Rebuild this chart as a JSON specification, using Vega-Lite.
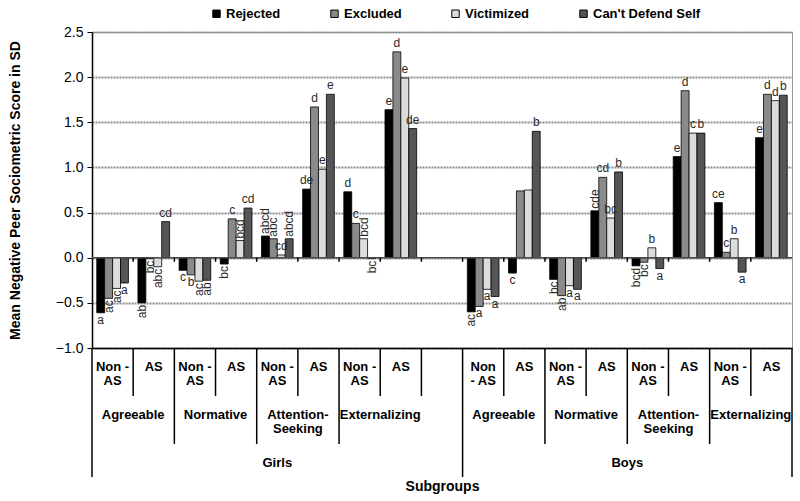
{
  "$schema": "https://vega.github.io/schema/vega-lite/v6.json",
  "width": 700,
  "height": 316,
  "autosize": {"type": "none"},
  "padding": {"left": 92, "top": 32, "right": 8, "bottom": 153},
  "background": "white",
  "config": {
    "font": "Liberation Sans",
    "view": {"stroke": "#9a9a9a", "strokeWidth": 1},
    "axisX": {
      "labelAngle": 0, "labelFontSize": 13, "labelFontWeight": "bold", "labelColor": "black",
      "labelPadding": 12, "labelLineHeight": 14, "labelOverlap": false, "labelLimit": 0,
      "ticks": false, "domainColor": "black", "domainWidth": 1.5, "grid": false,
      "titleFontSize": 14, "titleFontWeight": "bold", "titleColor": "black",
      "titleX": 350, "titleY": 138, "titleBaseline": "middle"
    },
    "axisY": {
      "titleFontSize": 14, "titleFontWeight": "bold", "titleColor": "black",
      "titleX": -77, "titleY": 158, "titleAngle": 270, "titleAlign": "center", "titleBaseline": "middle",
      "labelFontSize": 14, "labelColor": "black", "labelPadding": 4,
      "tickSize": 5, "tickColor": "black", "domainColor": "black", "domainWidth": 1.5,
      "grid": true, "gridColor": "#8c8c8c", "gridWidth": 2, "gridDash": [2, 1]
    }
  },
  "datasets": {
    "bars": [
      {"slot": "Girls|Agreeable|Non-AS", "series": "Rejected", "value": -0.61, "letter": "a"},
      {"slot": "Girls|Agreeable|Non-AS", "series": "Excluded", "value": -0.45, "letter": "ac"},
      {"slot": "Girls|Agreeable|Non-AS", "series": "Victimized", "value": -0.34, "letter": "ac"},
      {"slot": "Girls|Agreeable|Non-AS", "series": "Can't Defend Self", "value": -0.28, "letter": "a"},
      {"slot": "Girls|Agreeable|AS", "series": "Rejected", "value": -0.5, "letter": "ab"},
      {"slot": "Girls|Agreeable|AS", "series": "Excluded", "value": -0.01, "letter": "bc"},
      {"slot": "Girls|Agreeable|AS", "series": "Victimized", "value": -0.1, "letter": "abc"},
      {"slot": "Girls|Agreeable|AS", "series": "Can't Defend Self", "value": 0.4, "letter": "cd"},
      {"slot": "Girls|Normative|Non-AS", "series": "Rejected", "value": -0.14, "letter": "c"},
      {"slot": "Girls|Normative|Non-AS", "series": "Excluded", "value": -0.19, "letter": "b"},
      {"slot": "Girls|Normative|Non-AS", "series": "Victimized", "value": -0.26, "letter": "ac"},
      {"slot": "Girls|Normative|Non-AS", "series": "Can't Defend Self", "value": -0.25, "letter": "ab"},
      {"slot": "Girls|Normative|AS", "series": "Rejected", "value": -0.07, "letter": "bc"},
      {"slot": "Girls|Normative|AS", "series": "Excluded", "value": 0.43, "letter": "c"},
      {"slot": "Girls|Normative|AS", "series": "Victimized", "value": 0.19, "letter": "bcd"},
      {"slot": "Girls|Normative|AS", "series": "Can't Defend Self", "value": 0.55, "letter": "cd"},
      {"slot": "Girls|Attention-Seeking|Non-AS", "series": "Rejected", "value": 0.24, "letter": "abcd"},
      {"slot": "Girls|Attention-Seeking|Non-AS", "series": "Excluded", "value": 0.21, "letter": "abc"},
      {"slot": "Girls|Attention-Seeking|Non-AS", "series": "Victimized", "value": 0.03, "letter": "cd"},
      {"slot": "Girls|Attention-Seeking|Non-AS", "series": "Can't Defend Self", "value": 0.21, "letter": "abcd"},
      {"slot": "Girls|Attention-Seeking|AS", "series": "Rejected", "value": 0.76, "letter": "de"},
      {"slot": "Girls|Attention-Seeking|AS", "series": "Excluded", "value": 1.67, "letter": "d"},
      {"slot": "Girls|Attention-Seeking|AS", "series": "Victimized", "value": 0.98, "letter": "e"},
      {"slot": "Girls|Attention-Seeking|AS", "series": "Can't Defend Self", "value": 1.81, "letter": "e"},
      {"slot": "Girls|Externalizing|Non-AS", "series": "Rejected", "value": 0.73, "letter": "d"},
      {"slot": "Girls|Externalizing|Non-AS", "series": "Excluded", "value": 0.38, "letter": "c"},
      {"slot": "Girls|Externalizing|Non-AS", "series": "Victimized", "value": 0.21, "letter": "bcd"},
      {"slot": "Girls|Externalizing|Non-AS", "series": "Can't Defend Self", "value": -0.01, "letter": "bc"},
      {"slot": "Girls|Externalizing|AS", "series": "Rejected", "value": 1.64, "letter": "e"},
      {"slot": "Girls|Externalizing|AS", "series": "Excluded", "value": 2.28, "letter": "d"},
      {"slot": "Girls|Externalizing|AS", "series": "Victimized", "value": 1.99, "letter": "e"},
      {"slot": "Girls|Externalizing|AS", "series": "Can't Defend Self", "value": 1.43, "letter": "de"},
      {"slot": "Boys|Agreeable|Non-AS", "series": "Rejected", "value": -0.6, "letter": "ac"},
      {"slot": "Boys|Agreeable|Non-AS", "series": "Excluded", "value": -0.54, "letter": "a"},
      {"slot": "Boys|Agreeable|Non-AS", "series": "Victimized", "value": -0.35, "letter": "a"},
      {"slot": "Boys|Agreeable|Non-AS", "series": "Can't Defend Self", "value": -0.43, "letter": "a"},
      {"slot": "Boys|Agreeable|AS", "series": "Rejected", "value": -0.17, "letter": "c"},
      {"slot": "Boys|Agreeable|AS", "series": "Excluded", "value": 0.74, "letter": ""},
      {"slot": "Boys|Agreeable|AS", "series": "Victimized", "value": 0.75, "letter": ""},
      {"slot": "Boys|Agreeable|AS", "series": "Can't Defend Self", "value": 1.4, "letter": "b"},
      {"slot": "Boys|Normative|Non-AS", "series": "Rejected", "value": -0.24, "letter": "bc"},
      {"slot": "Boys|Normative|Non-AS", "series": "Excluded", "value": -0.42, "letter": "ab"},
      {"slot": "Boys|Normative|Non-AS", "series": "Victimized", "value": -0.31, "letter": "a"},
      {"slot": "Boys|Normative|Non-AS", "series": "Can't Defend Self", "value": -0.35, "letter": "a"},
      {"slot": "Boys|Normative|AS", "series": "Rejected", "value": 0.52, "letter": "cde"},
      {"slot": "Boys|Normative|AS", "series": "Excluded", "value": 0.89, "letter": "cd"},
      {"slot": "Boys|Normative|AS", "series": "Victimized", "value": 0.44, "letter": "bc"},
      {"slot": "Boys|Normative|AS", "series": "Can't Defend Self", "value": 0.95, "letter": "b"},
      {"slot": "Boys|Attention-Seeking|Non-AS", "series": "Rejected", "value": -0.09, "letter": "bcd"},
      {"slot": "Boys|Attention-Seeking|Non-AS", "series": "Excluded", "value": -0.05, "letter": "bc"},
      {"slot": "Boys|Attention-Seeking|Non-AS", "series": "Victimized", "value": 0.11, "letter": "b"},
      {"slot": "Boys|Attention-Seeking|Non-AS", "series": "Can't Defend Self", "value": -0.12, "letter": "a"},
      {"slot": "Boys|Attention-Seeking|AS", "series": "Rejected", "value": 1.12, "letter": "e"},
      {"slot": "Boys|Attention-Seeking|AS", "series": "Excluded", "value": 1.85, "letter": "d"},
      {"slot": "Boys|Attention-Seeking|AS", "series": "Victimized", "value": 1.38, "letter": "c"},
      {"slot": "Boys|Attention-Seeking|AS", "series": "Can't Defend Self", "value": 1.38, "letter": "b"},
      {"slot": "Boys|Externalizing|Non-AS", "series": "Rejected", "value": 0.61, "letter": "ce"},
      {"slot": "Boys|Externalizing|Non-AS", "series": "Excluded", "value": 0.06, "letter": "c"},
      {"slot": "Boys|Externalizing|Non-AS", "series": "Victimized", "value": 0.21, "letter": "b"},
      {"slot": "Boys|Externalizing|Non-AS", "series": "Can't Defend Self", "value": -0.16, "letter": "a"},
      {"slot": "Boys|Externalizing|AS", "series": "Rejected", "value": 1.33, "letter": "e"},
      {"slot": "Boys|Externalizing|AS", "series": "Excluded", "value": 1.81, "letter": "d"},
      {"slot": "Boys|Externalizing|AS", "series": "Victimized", "value": 1.74, "letter": "d"},
      {"slot": "Boys|Externalizing|AS", "series": "Can't Defend Self", "value": 1.8, "letter": "b"}
    ],
    "slots": [
      {"slot": "Girls|Agreeable|Non-AS", "gender": "Girls", "sub": "Non-AS", "boundary": "gender", "typeLabel": ""},
      {"slot": "Girls|Agreeable|AS", "gender": "Girls", "sub": "AS", "boundary": "sub", "typeLabel": "Agreeable"},
      {"slot": "Girls|Normative|Non-AS", "gender": "Girls", "sub": "Non-AS", "boundary": "type", "typeLabel": ""},
      {"slot": "Girls|Normative|AS", "gender": "Girls", "sub": "AS", "boundary": "sub", "typeLabel": "Normative"},
      {"slot": "Girls|Attention-Seeking|Non-AS", "gender": "Girls", "sub": "Non-AS", "boundary": "type", "typeLabel": ""},
      {"slot": "Girls|Attention-Seeking|AS", "gender": "Girls", "sub": "AS", "boundary": "sub", "typeLabel": "Attention-\nSeeking"},
      {"slot": "Girls|Externalizing|Non-AS", "gender": "Girls", "sub": "Non-AS", "boundary": "type", "typeLabel": ""},
      {"slot": "Girls|Externalizing|AS", "gender": "Girls", "sub": "AS", "boundary": "sub", "typeLabel": "Externalizing"},
      {"slot": "Girls|blank", "gender": "Girls", "sub": "blank", "boundary": "sub", "typeLabel": ""},
      {"slot": "Boys|Agreeable|Non-AS", "gender": "Boys", "sub": "Non-AS", "boundary": "gender", "typeLabel": ""},
      {"slot": "Boys|Agreeable|AS", "gender": "Boys", "sub": "AS", "boundary": "sub", "typeLabel": "Agreeable"},
      {"slot": "Boys|Normative|Non-AS", "gender": "Boys", "sub": "Non-AS", "boundary": "type", "typeLabel": ""},
      {"slot": "Boys|Normative|AS", "gender": "Boys", "sub": "AS", "boundary": "sub", "typeLabel": "Normative"},
      {"slot": "Boys|Attention-Seeking|Non-AS", "gender": "Boys", "sub": "Non-AS", "boundary": "type", "typeLabel": ""},
      {"slot": "Boys|Attention-Seeking|AS", "gender": "Boys", "sub": "AS", "boundary": "sub", "typeLabel": "Attention-\nSeeking"},
      {"slot": "Boys|Externalizing|Non-AS", "gender": "Boys", "sub": "Non-AS", "boundary": "type", "typeLabel": ""},
      {"slot": "Boys|Externalizing|AS", "gender": "Boys", "sub": "AS", "boundary": "sub", "typeLabel": "Externalizing"}
    ]
  },
  "layer": [
    {
      "data": {"name": "bars"},
      "mark": {"type": "bar", "stroke": "black", "strokeWidth": 0.8},
      "encoding": {
        "x": {
          "field": "slot", "type": "nominal", "sort": null,
          "scale": {"domain": ["Girls|Agreeable|Non-AS", "Girls|Agreeable|AS", "Girls|Normative|Non-AS", "Girls|Normative|AS", "Girls|Attention-Seeking|Non-AS", "Girls|Attention-Seeking|AS", "Girls|Externalizing|Non-AS", "Girls|Externalizing|AS", "Girls|blank", "Boys|Agreeable|Non-AS", "Boys|Agreeable|AS", "Boys|Normative|Non-AS", "Boys|Normative|AS", "Boys|Attention-Seeking|Non-AS", "Boys|Attention-Seeking|AS", "Boys|Externalizing|Non-AS", "Boys|Externalizing|AS"], "paddingInner": 0, "paddingOuter": 0},
          "axis": {
            "title": "Subgroups",
            "labelExpr": "indexof(datum.value, 'Non-AS') >= 0 ? (datum.value == 'Boys|Agreeable|Non-AS' ? ['Non', '- AS'] : ['Non -', 'AS']) : (indexof(datum.value, '|AS') >= 0 ? 'AS' : '')"
          }
        },
        "xOffset": {"field": "series", "type": "nominal", "scale": {"domain": ["Rejected", "Excluded", "Victimized", "Can't Defend Self"], "paddingInner": 0, "paddingOuter": 0.6}},
        "y": {
          "field": "value", "type": "quantitative",
          "scale": {"domain": [-1, 2.5], "nice": false},
          "axis": {
            "title": "Mean Negative Peer Sociometric Score in SD",
            "values": [-1, -0.5, 0, 0.5, 1, 1.5, 2, 2.5], "format": ".1f"
          }
        },
        "color": {
          "field": "series", "type": "nominal",
          "scale": {"domain": ["Rejected", "Excluded", "Victimized", "Can't Defend Self"], "range": ["#000000", "#8a8a8a", "#dcdcdc", "#555555"]},
          "legend": {
            "title": null, "orient": "none", "direction": "horizontal", "columns": 4,
            "legendX": 118, "legendY": -25,
            "symbolType": "square", "symbolSize": 55, "symbolStrokeColor": "black", "symbolStrokeWidth": 1,
            "labelFontSize": 13, "labelFontWeight": "bold", "labelColor": "black", "labelOffset": 3,
            "columnPadding": 47
          }
        }
      }
    },
    {
      "data": {"values": [{"line": "zero"}]},
      "mark": {"type": "rule", "color": "#4a4a4a", "strokeWidth": 1.5},
      "encoding": {"y": {"datum": 0, "type": "quantitative"}}
    },
    {
      "data": {"name": "bars"},
      "transform": [{"filter": "datum.value >= 0 && length(datum.letter) <= 2"}],
      "mark": {"type": "text", "baseline": "bottom", "align": "center", "dy": -2, "fontSize": 12, "color": "#2a2a2a"},
      "encoding": {
        "x": {"field": "slot", "type": "nominal", "sort": null},
        "xOffset": {"field": "series", "type": "nominal"},
        "y": {"field": "value", "type": "quantitative"},
        "text": {"field": "letter"}
      }
    },
    {
      "data": {"name": "bars"},
      "transform": [{"filter": "datum.value < 0 && length(datum.letter) <= 1"}],
      "mark": {"type": "text", "baseline": "top", "align": "center", "dy": 2, "fontSize": 12, "color": "#2a2a2a"},
      "encoding": {
        "x": {"field": "slot", "type": "nominal", "sort": null},
        "xOffset": {"field": "series", "type": "nominal"},
        "y": {"field": "value", "type": "quantitative"},
        "text": {"field": "letter"}
      }
    },
    {
      "data": {"name": "bars"},
      "transform": [{"filter": "datum.value >= 0 && length(datum.letter) > 2"}],
      "mark": {"type": "text", "baseline": "middle", "align": "left", "angle": 270, "dx": 2, "fontSize": 12, "color": "#2a2a2a"},
      "encoding": {
        "x": {"field": "slot", "type": "nominal", "sort": null},
        "xOffset": {"field": "series", "type": "nominal"},
        "y": {"field": "value", "type": "quantitative"},
        "text": {"field": "letter"}
      }
    },
    {
      "data": {"name": "bars"},
      "transform": [{"filter": "datum.value < 0 && length(datum.letter) > 1"}],
      "mark": {"type": "text", "baseline": "middle", "align": "right", "angle": 270, "dx": -2, "fontSize": 12, "color": "#2a2a2a"},
      "encoding": {
        "x": {"field": "slot", "type": "nominal", "sort": null},
        "xOffset": {"field": "series", "type": "nominal"},
        "y": {"field": "value", "type": "quantitative"},
        "text": {"field": "letter"}
      }
    },
    {
      "data": {"name": "slots"},
      "transform": [{"filter": "datum.boundary != 'gender' || datum.gender == 'Boys'"}],
      "mark": {"type": "rule", "color": "black", "strokeWidth": 1.5},
      "encoding": {
        "x": {"field": "slot", "type": "nominal", "sort": null, "bandPosition": 0},
        "y": {"datum": 0, "type": "quantitative"},
        "y2": {"datum": -0.045}
      }
    },
    {
      "data": {"name": "slots"},
      "transform": [{"filter": "datum.boundary == 'sub'"}],
      "mark": {"type": "rule", "color": "black", "strokeWidth": 1.5},
      "encoding": {
        "x": {"field": "slot", "type": "nominal", "sort": null, "bandPosition": 0},
        "y": {"datum": -1, "type": "quantitative"},
        "y2": {"datum": -1.532}
      }
    },
    {
      "data": {"name": "slots"},
      "transform": [{"filter": "datum.boundary == 'type'"}],
      "mark": {"type": "rule", "color": "black", "strokeWidth": 1.5},
      "encoding": {
        "x": {"field": "slot", "type": "nominal", "sort": null, "bandPosition": 0},
        "y": {"datum": -1, "type": "quantitative"},
        "y2": {"datum": -2.063}
      }
    },
    {
      "data": {"name": "slots"},
      "transform": [{"filter": "datum.boundary == 'gender'"}],
      "mark": {"type": "rule", "color": "black", "strokeWidth": 1.5},
      "encoding": {
        "x": {"field": "slot", "type": "nominal", "sort": null, "bandPosition": 0},
        "y": {"datum": -1, "type": "quantitative"},
        "y2": {"datum": -2.429}
      }
    },
    {
      "data": {"name": "slots"},
      "transform": [{"filter": "datum.slot == 'Boys|Externalizing|AS'"}],
      "mark": {"type": "rule", "color": "black", "strokeWidth": 1.5},
      "encoding": {
        "x": {"field": "slot", "type": "nominal", "sort": null, "bandPosition": 1},
        "y": {"datum": -1, "type": "quantitative"},
        "y2": {"datum": -2.429}
      }
    },
    {
      "data": {"name": "slots"},
      "transform": [{"filter": "datum.sub == 'AS'"}],
      "mark": {"type": "text", "baseline": "top", "align": "center", "fontSize": 13, "fontWeight": "bold", "color": "black", "lineBreak": "\n", "lineHeight": 14},
      "encoding": {
        "x": {"field": "slot", "type": "nominal", "sort": null, "bandPosition": 0},
        "y": {"datum": -1.676, "type": "quantitative"},
        "text": {"field": "typeLabel"}
      }
    },
    {
      "data": {"name": "slots"},
      "transform": [{"filter": "datum.slot == 'Girls|Attention-Seeking|Non-AS'"}],
      "mark": {"type": "text", "baseline": "middle", "align": "center", "fontSize": 13, "fontWeight": "bold", "color": "black"},
      "encoding": {
        "x": {"field": "slot", "type": "nominal", "sort": null, "bandPosition": 0.5},
        "y": {"datum": -2.274, "type": "quantitative"},
        "text": {"field": "gender"}
      }
    },
    {
      "data": {"name": "slots"},
      "transform": [{"filter": "datum.slot == 'Boys|Attention-Seeking|Non-AS'"}],
      "mark": {"type": "text", "baseline": "middle", "align": "center", "fontSize": 13, "fontWeight": "bold", "color": "black"},
      "encoding": {
        "x": {"field": "slot", "type": "nominal", "sort": null, "bandPosition": 0},
        "y": {"datum": -2.274, "type": "quantitative"},
        "text": {"field": "gender"}
      }
    }
  ]
}
